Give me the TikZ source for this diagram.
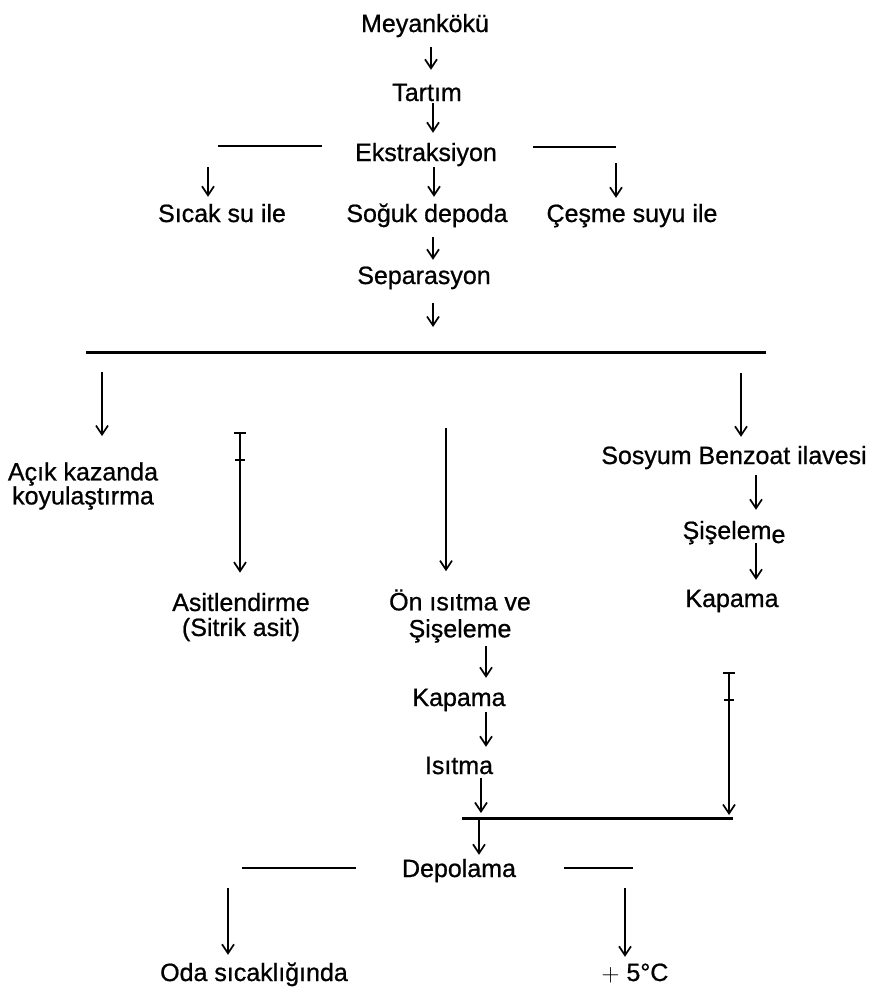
\documentclass[tikz,border=0pt]{standalone}
\usepackage{fontspec}
\setmainfont{Liberation Sans}[FakeBold=0.8]
\usetikzlibrary{arrows.meta}
\tikzset{
  lbl/.style={inner sep=0pt, text height=18pt, text depth=5pt},
  lbltwo/.style={inner sep=0pt, align=center},
  arr/.style={line width=1.7pt, -{Straight Barb[length=9pt,width=12pt]}},
  bararr/.style={line width=1.7pt, {Bar[width=12pt]}-{Straight Barb[length=9pt,width=12pt]}},
  split/.style={line width=2pt},
  bigsplit/.style={line width=3pt}
}
\begin{document}
\begin{tikzpicture}[x=1pt,y=-1pt,font=\fontsize{25}{25}\selectfont]
\useasboundingbox (0,0) rectangle (872,988);

% main column
\node[lbl] (meyan)  at (425,25.5)  {Meyankökü};
\node[lbl] (tartim) at (427,94.5)  {Tartım};
\node[lbl] (ekstr)  at (426,154.5) {Ekstraksiyon};
\node[lbl] (sicak)  at (222,215.5) {Sıcak su ile};
\node[lbl] (soguk)  at (427,215.5) {Soğuk depoda};
\node[lbl] (cesme)  at (632,215.5) {Çeşme suyu ile};
\node[lbl] (separ)  at (424,277.5) {Separasyon};

% four branches
\node[lbltwo] (acik) at (83,486)  {Açık kazanda\\[-1pt]koyulaştırma};
\node[lbltwo] (asit) at (241,617) {Asitlendirme\\(Sitrik asit)};
\node[lbltwo] (onis) at (460,616) {Ön ısıtma ve\\[2pt]Şişeleme};
\node[lbl] (sosyum) at (734,457.5) {Sosyum Benzoat ilavesi};
\node[lbl] (sisel)  at (734,532.5) {Şişelem\raisebox{-4pt}{e}};
\node[lbl] (kapR)   at (732,600.5) {Kapama};
\node[lbl] (kapM)   at (459,699.5) {Kapama};
\node[lbl] (isitma) at (459,767.5) {Isıtma};

% storage
\node[lbl] (depol) at (459,870.5) {Depolama};
\node[lbl] (oda)   at (254,974.5) {Oda sıcaklığında};
\node[lbl] (bes)   at (635,974.5) {$+$ 5°C};

% split lines
\coordinate (eL) at (218,146);
\coordinate (eR) at (616,147);
\draw[split] (eL) -- (322,146);
\draw[split] (533,147) -- (eR);

\coordinate (L1) at (86,352);
\coordinate (L2) at (766,352);
\coordinate (jA) at (102,352);
\coordinate (jB) at (240,352);
\coordinate (jC) at (446,352);
\coordinate (jD) at (741,352);
\coordinate (jM) at (433,352);
\draw[bigsplit] (L1) -- (L2);

\coordinate (jE) at (481,818);
\coordinate (jF) at (729,818);
\draw[bigsplit] (462,818) -- (733,818);

\coordinate (dL) at (242,868);
\coordinate (dR) at (633,868);
\draw[split] (dL) -- (356,868);
\draw[split] (564,868) -- (dR);

% arrows
\draw[arr] ([shift={(6,10)}]meyan.south) -- ([shift={(4,-13)}]tartim.north);
\draw[arr] ([shift={(6,-3)}]tartim.south) -- ([shift={(7,-10)}]ekstr.north);
\draw[arr] ([shift={(-10,21)}]eL) -- ([shift={(-14,-7)}]sicak.north);
\draw[arr] ([shift={(8,1)}]ekstr.south) -- ([shift={(7,-7)}]soguk.north);
\draw[arr] ([shift={(0,16)}]eR) -- ([shift={(-16,-6)}]cesme.north);
\draw[arr] ([shift={(6,10)}]soguk.south) -- ([shift={(9,-6)}]separ.north);
\draw[arr] ([shift={(9,14)}]separ.south) -- ([shift={(0,-25)}]jM);

\draw[arr] ([shift={(0,20)}]jA) -- ([shift={(19,-26)}]acik.north);
\draw[bararr] ([shift={(0,80)}]jB) -- ([shift={(-1,-20)}]asit.north);
\draw[line width=1.6pt] ([shift={(-5,108)}]jB) -- ++(10,0);
\draw[arr] ([shift={(0,76)}]jC) -- ([shift={(-14,-18)}]onis.north);
\draw[arr] ([shift={(0,21)}]jD) -- ([shift={(7,-9)}]sosyum.north);

\draw[arr] ([shift={(22,6)}]sosyum.south) -- ([shift={(22,-11)}]sisel.north);
\draw[arr] ([shift={(22,-1)}]sisel.south) -- ([shift={(24,-9)}]kapR.north);
\draw[arr] ([shift={(26,3)}]onis.south) -- ([shift={(27,-10)}]kapM.north);
\draw[arr] ([shift={(27,1)}]kapM.south) -- ([shift={(27,-9)}]isitma.north);
\draw[arr] ([shift={(22,-1)}]isitma.south) -- ([shift={(0,-5)}]jE);
\draw[bararr] ([shift={(-3,60)}]kapR.south) -- ([shift={(0,-3)}]jF);
\draw[line width=1.6pt] ([shift={(-5,-118)}]jF) -- ++(10,0);

\draw[arr] ([shift={(-2,2)}]jE) -- ([shift={(20,-4)}]depol.north);
\draw[arr] ([shift={(-14,20)}]dL) -- ([shift={(-26,-8)}]oda.north);
\draw[arr] ([shift={(-8,20)}]dR) -- ([shift={(-10,-6)}]bes.north);
\end{tikzpicture}
\end{document}
